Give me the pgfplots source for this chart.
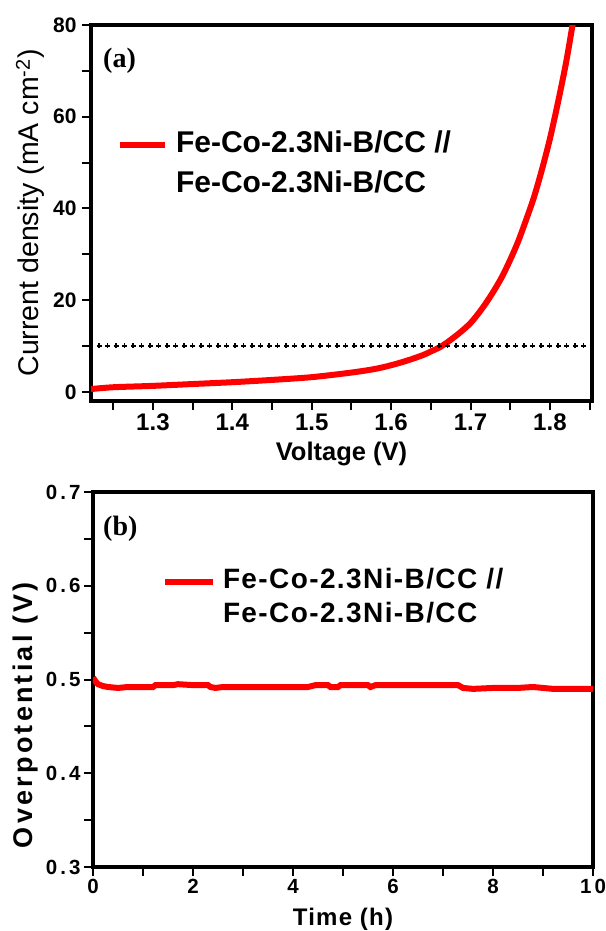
\documentclass[border=0pt]{standalone}
\usepackage{pgfplots}
\pgfplotsset{compat=1.18}
\usepackage{fontspec}
\setmainfont{Liberation Sans}
\newfontfamily\serifb{Liberation Serif}
\newfontfamily\spacedA[LetterSpace=5]{Liberation Sans}
\newfontfamily\spacedB[LetterSpace=12]{Liberation Sans}
\newfontfamily\spacedC[LetterSpace=15]{Liberation Sans}
\definecolor{myred}{RGB}{255,0,0}
\pgfplotsset{
  common/.style={
    scale only axis,
    tick align=outside, xtick pos=bottom, ytick pos=left,
    major tick length=9pt, minor tick length=9pt,
    axis line style={line width=4pt, line cap=rect},
    every tick/.style={line width=2pt, black},
    /pgf/number format/assume math mode=true,
    legend style={draw=none, fill=none, inner sep=0pt, outer sep=0pt,
      cells={anchor=west}},
  },
  legA/.style={legend image code/.code={\draw[##1] (0pt,0pt) -- (45pt,0pt);}},
  legB/.style={legend image code/.code={\draw[##1] (0pt,0pt) -- (48pt,0pt);}},
}
\begin{document}
\begin{tikzpicture}
\useasboundingbox (-91pt,-530pt) rectangle (514pt,401pt);
\begin{axis}[common, at={(0pt,0pt)}, anchor=south west, width=501pt, height=376pt,
  xmin=1.222, xmax=1.853, ymin=-2, ymax=80,
  xtick={1.3,1.4,1.5,1.6,1.7,1.8},
  minor xtick={1.25,1.35,1.45,1.55,1.65,1.75,1.85},
  ytick={0,20,40,60,80}, minor ytick={10,30,50,70},
  xticklabel style={font=\bfseries\fontsize{24}{24}\selectfont,
    /pgf/number format/.cd, fixed, precision=1, fixed zerofill},
  yticklabel style={font=\bfseries\fontsize{21}{21}\selectfont, xshift=-2pt},
  xlabel={Voltage (V)},
  xlabel style={font=\bfseries\fontsize{25.5}{25.5}\selectfont, at={(rel axis cs:0.5,-0.157)}, anchor=base},
  ylabel={Current density (mA cm\textsuperscript{-2})},
  ylabel style={font=\fontsize{28.5}{28.5}\selectfont, at={(rel axis cs:-0.104,0.5)}, anchor=base},
  legend style={at={(rel axis cs:0.052,0.726)}, anchor=north west,
    font=\bfseries\fontsize{30}{30}\selectfont,
    nodes={inner sep=2pt, text height=22pt, text depth=8pt},
    row sep=6pt, /tikz/every odd column/.append style={column sep=6pt}},
  clip=true]
\addplot[myred, line width=6pt, smooth, legA] coordinates {
(1.222,0.6) (1.250,1.0) (1.300,1.3) (1.350,1.7) (1.400,2.1) (1.450,2.6)
(1.500,3.2) (1.550,4.2) (1.580,5.0) (1.600,5.8) (1.620,6.8) (1.640,8.0)
(1.650,8.8) (1.660,9.6) (1.670,10.7) (1.680,12.0) (1.690,13.4) (1.700,15.0)
(1.710,17.1) (1.720,19.5) (1.730,22.2) (1.740,25.2) (1.750,28.8) (1.760,32.8)
(1.770,37.5) (1.780,42.5) (1.790,48.5) (1.800,55.2) (1.810,63.0) (1.820,71.5)
(1.828,79.5) (1.830,82.0)
};
\addlegendentry{Fe-Co-2.3Ni-B/CC //}
\addlegendimage{empty legend}
\addlegendentry{Fe-Co-2.3Ni-B/CC}
\addplot[black, line width=1.3pt, dash pattern=on 5pt off 3.5pt, forget plot] coordinates {(1.229,10) (1.850,10)};
\addplot[black, line width=5pt, dash pattern=on 1.3pt off 7.2pt, dash phase=6.65pt, forget plot] coordinates {(1.229,10) (1.850,10)};
\node[anchor=base west, inner sep=0pt, font=\serifb\bfseries\fontsize{28}{28}\selectfont] at (rel axis cs:0.024,0.888) {(a)};
\end{axis}
\begin{axis}[common, at={(2pt,-91pt)}, anchor=north west, width=500pt, height=375pt,
  xmin=0, xmax=10, ymin=0.3, ymax=0.7,
  xtick={0,2,4,6,8,10}, minor xtick={1,3,5,7,9},
  ytick={0.3,0.4,0.5,0.6,0.7}, minor ytick={0.35,0.45,0.55,0.65},
  tick label style={font=\spacedC\bfseries\fontsize{20.5}{20.5}\selectfont},
  yticklabel style={/pgf/number format/.cd, fixed, precision=1, fixed zerofill},
  xlabel={Time (h)},
  xlabel style={font=\spacedA\bfseries\fontsize{24}{24}\selectfont, at={(rel axis cs:0.5,-0.155)}, anchor=base},
  ylabel={Overpotential (V)},
  ylabel style={font=\spacedB\bfseries\fontsize{27}{27}\selectfont, at={(rel axis cs:-0.122,0.405)}, anchor=base},
  legend style={at={(rel axis cs:0.138,0.805)}, anchor=north west,
    font=\spacedA\bfseries\fontsize{28}{28}\selectfont,
    nodes={inner sep=2pt, text height=21pt, text depth=9pt},
    row sep=0pt, /tikz/every odd column/.append style={column sep=5pt}}]
\addplot[myred, line width=6pt, legB] coordinates {
(0.00,0.502) (0.05,0.498) (0.10,0.495) (0.20,0.493) (0.30,0.492) (0.50,0.491)
(0.70,0.492) (1.00,0.492) (1.20,0.492) (1.25,0.494) (1.60,0.494) (1.70,0.495)
(2.00,0.494) (2.30,0.494) (2.35,0.492) (2.45,0.491) (2.60,0.492) (3.00,0.492)
(3.50,0.492) (4.00,0.492) (4.30,0.492) (4.45,0.494) (4.70,0.494) (4.75,0.492)
(4.90,0.492) (4.95,0.494) (5.50,0.494) (5.55,0.492) (5.65,0.494) (6.00,0.494)
(6.50,0.494) (7.00,0.494) (7.30,0.494) (7.40,0.491) (7.60,0.490) (8.00,0.491)
(8.50,0.491) (8.80,0.492) (9.00,0.491) (9.20,0.490) (9.50,0.490) (10.00,0.490)
};
\addlegendentry{Fe-Co-2.3Ni-B/CC //}
\addlegendimage{empty legend}
\addlegendentry{Fe-Co-2.3Ni-B/CC}
\node[anchor=base west, inner sep=0pt, font=\serifb\bfseries\fontsize{28}{28}\selectfont] at (rel axis cs:0.02,0.885) {(b)};
\end{axis}
\end{tikzpicture}
\end{document}
